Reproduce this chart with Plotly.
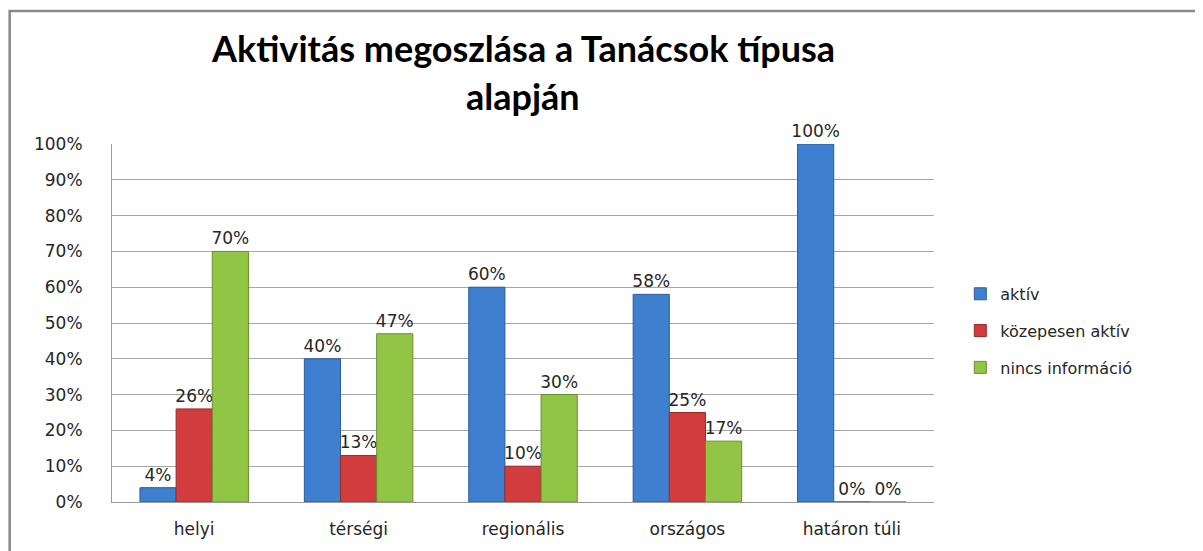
import plotly.graph_objects as go

categories = ["helyi", "térségi", "regionális", "országos", "határon túli"]
aktiv = [0.04, 0.40, 0.60, 0.58, 1.00]
kozepesen = [0.26, 0.13, 0.10, 0.25, 0.00]
nincs = [0.70, 0.47, 0.30, 0.17, 0.00]
series_names = ["aktív", "közepesen aktív", "nincs információ"]
tick_vals = [0, 0.1, 0.2, 0.3, 0.4, 0.5, 0.6, 0.7, 0.8, 0.9, 1.0]
tick_text = ["0%", "10%", "20%", "30%", "40%", "50%", "60%", "70%", "80%", "90%", "100%"]

fills = ["#3f7fd0", "#d23c3c", "#92c445"]
edges = ["#2b5c9a", "#982a2a", "#66902e"]
label_font = dict(family="DejaVu Sans", size=17, color="#262626")

fig = go.Figure()
for i, (name, vals) in enumerate(zip(series_names, [aktiv, kozepesen, nincs])):
    fig.add_trace(go.Bar(
        x=categories, y=vals, name=name, legendgroup=name,
        marker=dict(color=fills[i], line=dict(color=edges[i], width=1)),
        text=[f"{round(v*100)}%" for v in vals],
        textposition="outside", textfont=label_font, cliponaxis=False,
        constraintext="none",
    ))

fig.update_layout(
    width=1195, height=543,
    margin=dict(l=104, r=269, t=136, b=45),
    paper_bgcolor="white", plot_bgcolor="white",
    barmode="group", bargap=0.34, bargroupgap=0,
    showlegend=True,
    legend=dict(x=1.032, y=0.478, xanchor="left", yanchor="middle",
                font=dict(family="DejaVu Sans", size=16, color="#262626"),
                tracegroupgap=13, traceorder="grouped"),
    xaxis=dict(showline=True, linecolor="#9a9a9a", linewidth=1,
               tickfont=dict(family="DejaVu Sans", size=17, color="#262626"),
               ticklabelstandoff=12, showgrid=False),
    yaxis=dict(range=[0, 1], tickvals=tick_vals, ticktext=tick_text,
               showgrid=True, gridcolor="#a6a6a6", gridwidth=1,
               showline=True, linecolor="#9a9a9a", linewidth=1,
               tickfont=dict(family="DejaVu Sans", size=17, color="#262626"),
               ticklabelstandoff=25, zeroline=False),
    shapes=[dict(type="rect", xref="paper", yref="paper",
                 x0=-0.1245, x1=1.5, y0=-0.3, y1=1.3716,
                 line=dict(color="#8a8a8a", width=2.5), layer="below")],
    annotations=[
        dict(text="<b>Aktivitás megoszlása a Tanácsok típusa</b>", xref="paper", yref="paper",
             x=0.5, y=1.268, xanchor="center", yanchor="middle", showarrow=False,
             font=dict(family="Lato", size=36, color="black")),
        dict(text="<b>alapján</b>", xref="paper", yref="paper",
             x=0.5, y=1.135, xanchor="center", yanchor="middle", showarrow=False,
             font=dict(family="Lato", size=36, color="black")),
    ],
)

fig.write_html("out.html")
